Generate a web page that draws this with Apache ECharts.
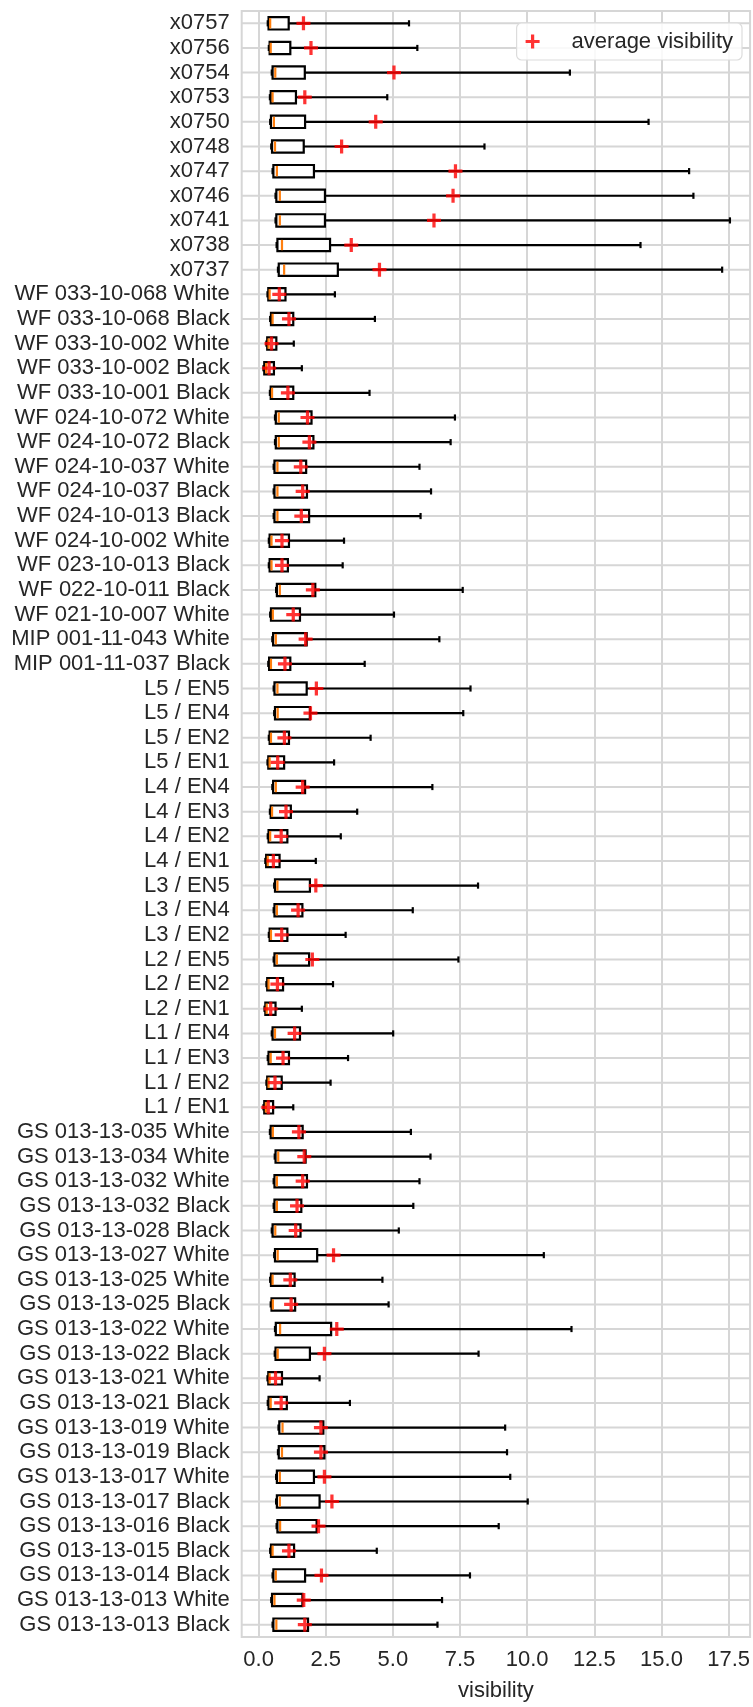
<!DOCTYPE html>
<html>
<head>
<meta charset="utf-8">
<script src="https://cdn.jsdelivr.net/npm/echarts@6/dist/echarts.min.js"></script>
<style>
  html, body { margin: 0; padding: 0; background: #ffffff; }
  #chart { width: 753px; height: 1707px; }
</style>
</head>
<body>
<div id="chart"></div>
<script>
// Sample names, top to bottom
const categories = [
  'x0757','x0756','x0754','x0753','x0750','x0748','x0747','x0746','x0741','x0738','x0737',
  'WF 033-10-068 White','WF 033-10-068 Black','WF 033-10-002 White','WF 033-10-002 Black','WF 033-10-001 Black',
  'WF 024-10-072 White','WF 024-10-072 Black','WF 024-10-037 White','WF 024-10-037 Black','WF 024-10-013 Black',
  'WF 024-10-002 White','WF 023-10-013 Black','WF 022-10-011 Black','WF 021-10-007 White',
  'MIP 001-11-043 White','MIP 001-11-037 Black',
  'L5 / EN5','L5 / EN4','L5 / EN2','L5 / EN1','L4 / EN4','L4 / EN3','L4 / EN2','L4 / EN1',
  'L3 / EN5','L3 / EN4','L3 / EN2','L2 / EN5','L2 / EN2','L2 / EN1','L1 / EN4','L1 / EN3','L1 / EN2','L1 / EN1',
  'GS 013-13-035 White','GS 013-13-034 White','GS 013-13-032 White','GS 013-13-032 Black','GS 013-13-028 Black',
  'GS 013-13-027 White','GS 013-13-025 White','GS 013-13-025 Black','GS 013-13-022 White','GS 013-13-022 Black',
  'GS 013-13-021 White','GS 013-13-021 Black','GS 013-13-019 White','GS 013-13-019 Black','GS 013-13-017 White',
  'GS 013-13-017 Black','GS 013-13-016 Black','GS 013-13-015 Black','GS 013-13-014 Black','GS 013-13-013 White','GS 013-13-013 Black'
];

// Lower whisker ends
const lows = [
  0.34,0.38,0.49,0.42,0.43,0.47,0.52,0.63,0.63,0.67,0.72,
  0.33,0.43,0.29,0.18,0.42, 0.61,0.61,0.56,0.56,0.56, 0.38,0.38,0.65,0.43,
  0.51,0.36,
  0.56,0.58,0.38,0.33,0.51,0.42,0.34,0.25, 0.58,0.56,0.38,0.56,0.29,0.22,0.49,0.34,0.29,0.18,
  0.42,0.60,0.56,0.56,0.49, 0.58,0.43,0.45,0.61,0.60, 0.33,0.34,0.74,0.72,0.65, 0.65,0.67,0.43,0.52,0.47,0.52
];

// First quartiles
const q1 = [
  0.37,0.41,0.52,0.45,0.46,0.50,0.55,0.66,0.66,0.70,0.75,
  0.36,0.46,0.32,0.21,0.45, 0.64,0.64,0.59,0.59,0.59, 0.41,0.41,0.68,0.46,
  0.54,0.39,
  0.59,0.61,0.41,0.36,0.54,0.45,0.37,0.28, 0.61,0.59,0.41,0.59,0.32,0.25,0.52,0.37,0.32,0.21,
  0.45,0.63,0.59,0.59,0.52, 0.61,0.46,0.48,0.64,0.63, 0.36,0.37,0.77,0.75,0.68, 0.68,0.70,0.46,0.55,0.50,0.55
];

// Medians
const medians = [
  0.43,0.45,0.62,0.52,0.57,0.61,0.68,0.79,0.79,0.87,0.95,
  0.41,0.52,0.37,0.28,0.50, 0.75,0.75,0.70,0.70,0.70, 0.48,0.48,0.79,0.53,
  0.64,0.46,
  0.70,0.71,0.46,0.41,0.64,0.50,0.43,0.34, 0.70,0.68,0.46,0.68,0.37,0.30,0.61,0.45,0.37,0.27,
  0.53,0.73,0.68,0.68,0.62, 0.71,0.52,0.53,0.80,0.71, 0.41,0.45,0.89,0.87,0.79, 0.79,0.80,0.52,0.64,0.59,0.66
];

// Third quartiles
const q3 = [
  1.12,1.18,1.72,1.39,1.73,1.68,2.06,2.47,2.47,2.66,2.95,
  1.00,1.29,0.66,0.57,1.29, 1.97,2.04,1.77,1.80,1.88, 1.13,1.09,2.11,1.54,
  1.79,1.18,
  1.79,1.91,1.13,0.95,1.73,1.20,1.07,0.78, 1.91,1.63,1.07,1.88,0.91,0.63,1.54,1.13,0.86,0.54,
  1.64,1.75,1.80,1.59,1.56, 2.18,1.34,1.36,2.70,1.91, 0.87,1.05,2.41,2.45,2.06, 2.27,2.16,1.32,1.73,1.63,1.84
];

// Upper whisker ends
const highs = [
  5.60,5.91,11.59,4.79,14.52,8.41,16.03,16.19,17.55,14.22,17.26,
  2.84,4.33,1.31,1.61,4.13, 7.31,7.15,5.99,6.42,6.03, 3.18,3.13,7.60,5.04,
  6.73,3.95,
  7.89,7.62,4.17,2.81,6.47,3.67,3.06,2.13, 8.17,5.74,3.24,7.44,2.77,1.61,5.01,3.33,2.68,1.29,
  5.67,6.40,5.99,5.76,5.22, 10.62,4.61,4.84,11.65,8.19, 2.27,3.40,9.18,9.25,9.37, 10.02,8.94,4.40,7.87,6.83,6.66
];

// Average visibility per sample
const means = [
  1.67,1.95,5.04,1.72,4.36,3.09,7.33,7.24,6.53,3.45,4.50,
  0.77,1.13,0.48,0.39,1.09, 1.82,1.89,1.57,1.64,1.59, 0.87,0.87,2.02,1.29,
  1.75,0.98,
  2.15,1.93,0.96,0.71,1.64,1.02,0.84,0.55, 2.13,1.47,0.86,2.00,0.70,0.45,1.34,0.91,0.61,0.36,
  1.50,1.70,1.64,1.43,1.38, 2.79,1.18,1.21,2.91,2.45, 0.63,0.84,2.32,2.32,2.45, 2.73,2.23,1.13,2.34,1.68,1.72
];

// Visibility axis tick values
const xTicks = [0, 2.5, 5, 7.5, 10, 12.5, 15, 17.5];

const FONT = "'Liberation Sans', Arial, sans-serif";
const TEXT = '#262626';
const GRID = '#d6d6d6';
const PLUS = 'path://M5,0 H8 V5 H13 V8 H8 V13 H5 V8 H0 V5 H5 Z';

const boxData = categories.map((c, i) => [i, lows[i], q1[i], medians[i], q3[i], highs[i]]);
const meanData = categories.map((c, i) => [means[i], i]);

const chart = echarts.init(document.getElementById('chart'), null, { renderer: 'canvas' });

chart.setOption({
  backgroundColor: '#ffffff',
  animation: false,
  textStyle: { fontFamily: FONT, color: TEXT },
  grid: {
    left: 241.7, right: 2, top: 11, bottom: 64.5,
    show: true, borderColor: GRID, borderWidth: 2, backgroundColor: 'transparent'
  },
  legend: {
    right: 11, top: 23,
    padding: [7, 9, 7, 9],
    backgroundColor: 'rgba(255,255,255,0.85)',
    borderColor: '#dcdcdc', borderWidth: 1.2, borderRadius: 5,
    itemWidth: 44, itemHeight: 14,
    data: [{ name: 'average visibility', icon: PLUS, itemStyle: { color: '#ff0000' } }],
    textStyle: { fontSize: 22, color: TEXT, fontFamily: FONT, lineHeight: 23, padding: [0, 0, 0, 12] }
  },
  xAxis: {
    type: 'value', min: -0.63, max: 18.3,
    axisLine: { show: false },
    axisTick: { show: false, customValues: xTicks },
    axisLabel: {
      customValues: xTicks, fontSize: 22, color: TEXT, fontFamily: FONT, margin: 12,
      formatter: v => v.toFixed(1)
    },
    splitLine: { show: true, lineStyle: { color: GRID, width: 2 } },
    name: 'visibility', nameLocation: 'middle', nameGap: 43,
    nameTextStyle: { fontSize: 22, color: TEXT, fontFamily: FONT }
  },
  yAxis: {
    type: 'category', data: categories, inverse: true,
    axisLine: { show: false }, axisTick: { show: false },
    axisLabel: { interval: 0, hideOverlap: false, fontSize: 22, color: TEXT, fontFamily: FONT, margin: 12 },
    splitLine: { show: false }
  },
  series: [
    {
      type: 'custom',
      name: 'boxes',
      data: boxData,
      encode: { x: [1, 2, 3, 4, 5], y: 0 },
      renderItem: function (params, api) {
        const idx = api.value(0);
        const cs = params.coordSys;
        const pLow = api.coord([api.value(1), idx]);
        const pQ1 = api.coord([api.value(2), idx]);
        const pMed = api.coord([api.value(3), idx]);
        const pQ3 = api.coord([api.value(4), idx]);
        const pHigh = api.coord([api.value(5), idx]);
        const band = api.size([0, 1])[1];
        const y = pQ1[1];
        const h = band * 0.5;
        const cap = h * 0.5;
        const black = { stroke: '#000000', lineWidth: 2.2, fill: null };
        return {
          type: 'group',
          children: [
            // horizontal grid line through the category centre
            { type: 'line', shape: { x1: cs.x, y1: y, x2: cs.x + cs.width, y2: y },
              style: { stroke: GRID, lineWidth: 2 } },
            // whiskers
            { type: 'line', shape: { x1: pQ3[0], y1: y, x2: pHigh[0], y2: y }, style: black },
            { type: 'line', shape: { x1: pLow[0], y1: y, x2: pQ1[0], y2: y }, style: black },
            // caps
            { type: 'line', shape: { x1: pHigh[0], y1: y - cap / 2, x2: pHigh[0], y2: y + cap / 2 }, style: black },
            { type: 'line', shape: { x1: pLow[0], y1: y - cap / 2, x2: pLow[0], y2: y + cap / 2 }, style: black },
            // box
            { type: 'rect', shape: { x: pQ1[0], y: y - h / 2, width: pQ3[0] - pQ1[0], height: h },
              style: { stroke: '#000000', lineWidth: 2.2, fill: '#ffffff' } },
            // median
            { type: 'line', shape: { x1: pMed[0], y1: y - h / 2 + 1, x2: pMed[0], y2: y + h / 2 - 1 },
              style: { stroke: '#ff7f0e', lineWidth: 2.2 } }
          ]
        };
      },
      z: 2
    },
    {
      type: 'scatter',
      name: 'average visibility',
      data: meanData,
      symbol: PLUS,
      symbolSize: 14,
      itemStyle: { color: '#ff0000' },
      z: 5
    }
  ]
});
</script>
</body>
</html>
